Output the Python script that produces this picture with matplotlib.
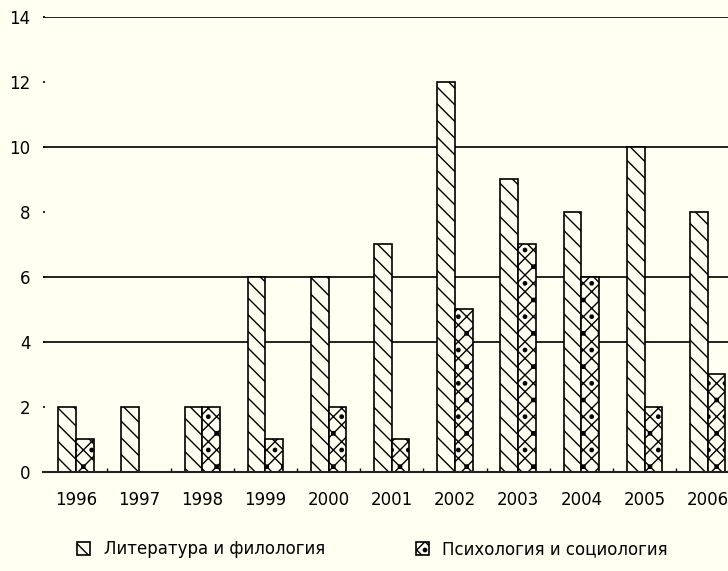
import numpy as np
import matplotlib.pyplot as plt
from matplotlib.ticker import FixedLocator

years = ['1996', '1997', '1998', '1999', '2000', '2001', '2002', '2003', '2004', '2005', '2006']
literature = [2, 2, 2, 6, 6, 7, 12, 9, 8, 10, 8]
psychology = [1, 0, 2, 1, 2, 1, 5, 7, 6, 2, 3]
series_names = ['Литература и филология', 'Психология и социология']
grid_levels = [4, 6, 10, 14]

bg = '#fffff2'
plt.rcParams['font.family'] = ['DejaVu Sans']
plt.rcParams['hatch.linewidth'] = 1.0

fig = plt.figure(figsize=(7.28, 5.71), dpi=100, facecolor=bg)
ax = fig.add_axes([0.059, 0.1734, 0.941, 0.797], facecolor=bg)

x = np.arange(len(years))
w = 0.28
b1 = ax.bar(x - w / 2, literature, w, facecolor=bg, edgecolor='black',
            linewidth=1.2, hatch='\\\\', zorder=3, label=series_names[0])
b2 = ax.bar(x + w / 2, psychology, w, facecolor=bg, edgecolor='black',
            linewidth=1.2, hatch='xx.', zorder=3, label=series_names[1])

# horizontal lines (only some levels show in the source)
for lv in grid_levels:
    ax.axhline(lv, color='#222222', linewidth=1.4, zorder=1)

ax.set_xlim(-0.52, 10.32)
ax.set_ylim(0, 14)
ax.set_yticks(np.arange(0, 15, 2))
ax.set_xticks(x)
ax.set_xticklabels(years)
ax.xaxis.set_minor_locator(FixedLocator(x[:-1] + 0.5))

for s in ['left', 'top', 'right']:
    ax.spines[s].set_visible(False)
ax.spines['bottom'].set_linewidth(1.5)
ax.spines['bottom'].set_color('#222222')
ax.spines['bottom'].set_zorder(4)

ax.tick_params(axis='x', which='major', length=0, pad=14, labelsize=12)
ax.tick_params(axis='x', which='minor', direction='in', length=3, width=1)
ax.tick_params(axis='y', direction='in', length=1.5, width=1.2, pad=9, labelsize=12)

fig.legend(handles=[b1, b2], loc='lower left', bbox_to_anchor=(0.085, -0.004),
           ncol=2, frameon=False, fontsize=12, handlelength=0.8, handleheight=0.9,
           handletextpad=0.8, columnspacing=5.45)

fig.savefig('out.png', dpi=100, facecolor=bg)
